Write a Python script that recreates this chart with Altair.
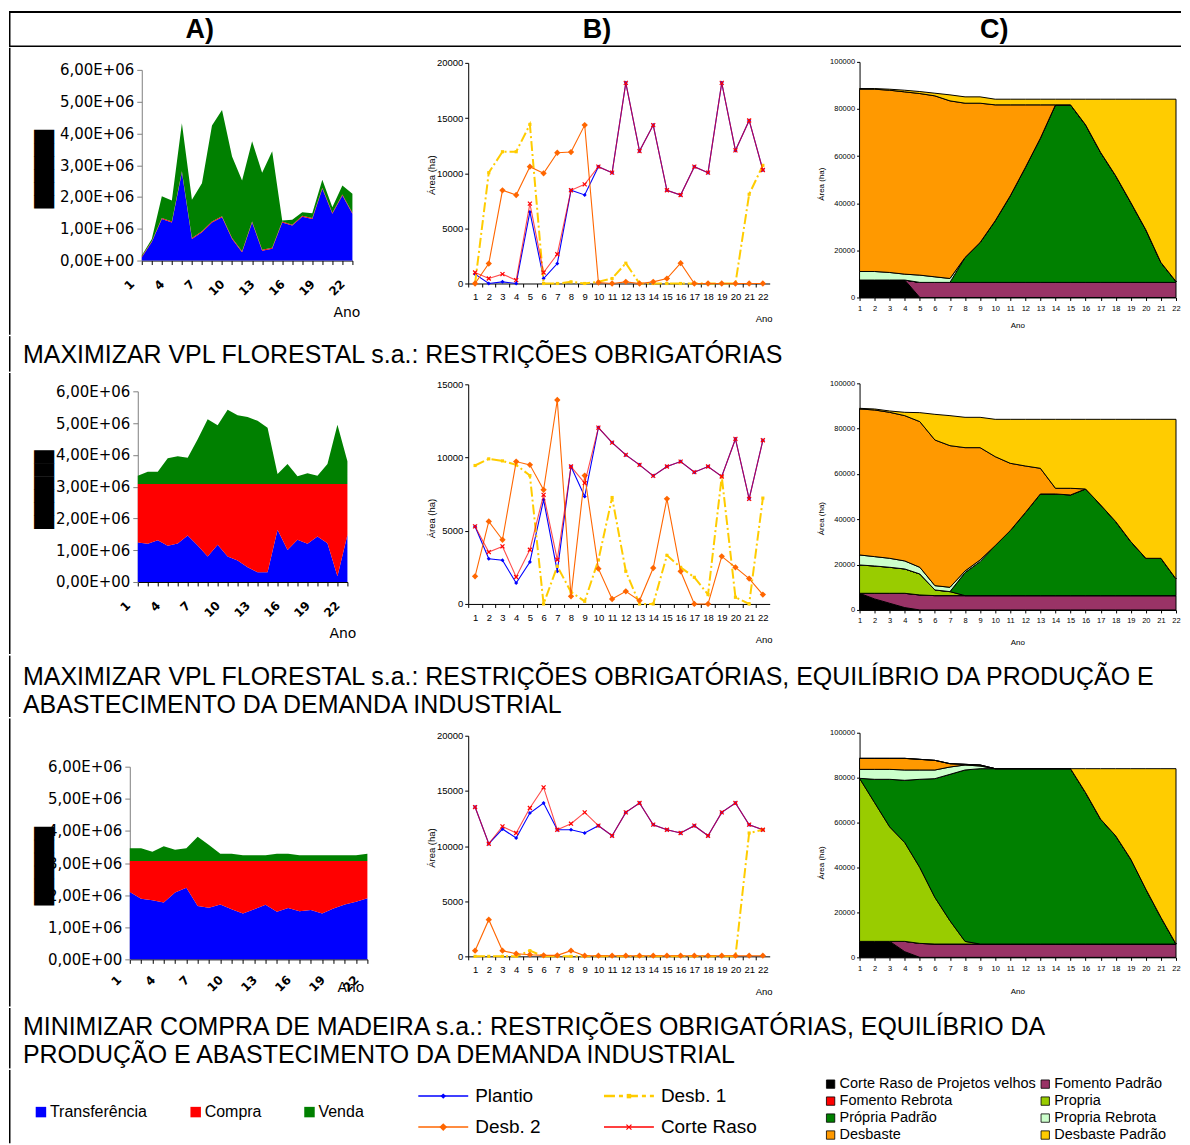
import altair as alt
import pandas as pd

FONT = "Liberation Sans"
AXFONT = "DejaVu Sans"
anos = list(range(1, 23))

# ---------------- A) valores (E+06) ----------------
serie_a = ["Transferência", "Compra", "Venda"]
cores_a = ["#0000ff", "#ff0000", "#008000"]

a1_transf = [0.10, 0.58, 1.31, 1.20, 2.78, 0.68, 0.89, 1.20, 1.36, 0.68, 0.26, 1.20, 0.31, 0.37, 1.20, 1.10, 1.38, 1.31, 2.26, 1.47, 2.05, 1.47]
a1_compra = [0.03, 0.03, 0.03, 0.03, 0.03, 0.03, 0.03, 0.03, 0.03, 0.03, 0.03, 0.03, 0.03, 0.03, 0.03, 0.03, 0.03, 0.03, 0.03, 0.03, 0.03, 0.03]
a1_venda = [0.03, 0.07, 0.68, 0.66, 1.51, 1.20, 1.51, 3.02, 3.35, 2.56, 2.23, 2.52, 2.42, 3.04, 0.03, 0.15, 0.11, 0.15, 0.25, 0.18, 0.28, 0.60]

a2_transf = [1.24, 1.20, 1.31, 1.14, 1.21, 1.46, 1.15, 0.80, 1.17, 0.80, 0.68, 0.46, 0.31, 0.31, 1.64, 1.01, 1.33, 1.20, 1.43, 1.22, 0.18, 1.48]
a2_compra = [1.84, 1.88, 1.77, 1.94, 1.87, 1.62, 1.93, 2.28, 1.91, 2.28, 2.40, 2.62, 2.77, 2.77, 1.44, 2.07, 1.75, 1.88, 1.65, 1.86, 2.90, 1.60]
a2_venda = [0.26, 0.39, 0.39, 0.81, 0.88, 0.83, 1.41, 2.04, 1.85, 2.34, 2.17, 2.11, 1.99, 1.77, 0.32, 0.63, 0.25, 0.34, 0.26, 0.63, 1.87, 0.72]

a3_transf = [2.10, 1.89, 1.84, 1.77, 2.08, 2.23, 1.66, 1.61, 1.71, 1.56, 1.43, 1.56, 1.70, 1.48, 1.60, 1.50, 1.54, 1.43, 1.58, 1.71, 1.79, 1.90]
a3_compra = [0.96, 1.17, 1.22, 1.29, 0.98, 0.83, 1.40, 1.45, 1.35, 1.50, 1.63, 1.50, 1.36, 1.58, 1.46, 1.56, 1.52, 1.63, 1.48, 1.35, 1.27, 1.16]
a3_venda = [0.40, 0.40, 0.29, 0.46, 0.35, 0.40, 0.76, 0.50, 0.23, 0.23, 0.18, 0.18, 0.18, 0.23, 0.23, 0.18, 0.18, 0.18, 0.18, 0.18, 0.18, 0.23]

# ---------------- B) área (ha) ----------------
serie_b = ["Plantio", "Desb. 1", "Desb. 2", "Corte Raso"]

b1_plantio = [850, 0, 150, 0, 6490, 450, 1810, 8450, 8030, 10590, 10045, 18190, 12005, 14360, 8450, 8025, 10590, 10045, 18190, 12065, 14780, 10290]
b1_desb1 = [0, 10045, 11945, 11945, 14420, 0, 0, 150, 0, 150, 450, 1840, 0, 0, 0, 0, 0, 0, 0, 0, 8085, 10710]
b1_desb2 = [0, 1810, 8450, 8025, 10590, 9985, 11855, 11915, 14360, 90, 0, 150, 0, 150, 450, 1840, 0, 0, 0, 0, 0, 0]
b1_corte = [1000, 450, 850, 300, 7240, 1000, 2650, 8450, 8990, 10590, 10045, 18190, 12005, 14360, 8450, 8025, 10590, 10045, 18190, 12065, 14780, 10290]

b2_plantio = [5295, 3090, 2980, 1430, 2865, 7115, 2230, 9385, 7340, 12045, 11020, 10180, 9500, 8750, 9385, 9725, 9000, 9385, 8705, 11270, 7180, 11180]
b2_desb1 = [9455, 9910, 9770, 9500, 8770, 0, 2570, 820, 180, 3000, 7270, 2230, 0, 0, 3320, 2500, 1820, 640, 8705, 455, 0, 7230]
b2_desb2 = [1885, 5635, 4385, 9725, 9500, 7795, 13930, 520, 8770, 2410, 340, 865, 230, 2455, 7180, 2230, 0, 0, 3250, 2500, 1730, 640]
b2_corte = [5295, 3545, 3930, 1840, 3705, 7455, 3020, 9385, 8250, 12045, 11020, 10180, 9500, 8750, 9385, 9725, 9000, 9385, 8705, 11270, 7180, 11180]

b3_plantio = [13535, 10210, 11540, 10725, 12990, 13900, 11480, 11480, 11180, 11845, 10935, 13050, 13900, 11935, 11480, 11180, 11845, 10935, 13050, 13900, 11935, 11480]
b3_desb1 = [0, 0, 0, 0, 515, 0, 0, 0, 0, 0, 0, 0, 0, 0, 0, 0, 0, 0, 0, 0, 11180, 11480]
b3_desb2 = [515, 3325, 515, 240, 150, 90, 90, 515, 60, 60, 60, 60, 60, 60, 60, 60, 60, 60, 60, 60, 60, 60]
b3_corte = [13535, 10210, 11780, 11180, 13445, 15315, 11480, 12025, 13050, 11845, 10935, 13050, 13900, 11935, 11480, 11180, 11845, 10935, 13050, 13900, 11935, 11480]

# ---------------- C) área (ha) por classe ----------------
serie_c = ["Corte Raso de Projetos velhos", "Fomento Padrão", "Fomento Rebrota", "Propria",
           "Própria Padrão", "Propria Rebrota", "Desbaste", "Desbaste Padrão"]
cores_c = ["#000000", "#993366", "#ff0000", "#99cc00", "#008000", "#ccffcc", "#ff9900", "#ffcc00"]

c1 = [
    [7400, 7400, 7400, 7400, 0, 0, 0, 0, 0, 0, 0, 0, 0, 0, 0, 0, 0, 0, 0, 0, 0, 0],
    [0, 0, 0, 0, 6400, 6400, 6400, 6400, 6400, 6400, 6400, 6400, 6400, 6400, 6400, 6400, 6400, 6400, 6400, 6400, 6400, 6400],
    [0, 0, 0, 0, 0, 0, 0, 0, 0, 0, 0, 0, 0, 0, 0, 0, 0, 0, 0, 0, 0, 0],
    [0, 0, 0, 0, 0, 0, 0, 0, 0, 0, 0, 0, 0, 0, 0, 0, 0, 0, 0, 0, 0, 0],
    [0, 0, 0, 0, 0, 0, 0, 10570, 16940, 26130, 36740, 48760, 61210, 75350, 75350, 66870, 55130, 45230, 33910, 22310, 8450, 390],
    [3630, 3630, 3210, 2500, 3080, 2370, 1660, 0, 0, 0, 0, 0, 0, 0, 0, 0, 0, 0, 0, 0, 0, 0],
    [77370, 77370, 77360, 77370, 77080, 76800, 75390, 65490, 59120, 49220, 38610, 26590, 14140, 0, 0, 0, 0, 0, 0, 0, 0, 0],
    [280, 280, 430, 700, 850, 1130, 2550, 2690, 2690, 2410, 2410, 2410, 2410, 2410, 2410, 10890, 22630, 32530, 43850, 55450, 69310, 77370],
]
c2 = [
    [7350, 4850, 2940, 1030, 0, 0, 0, 0, 0, 0, 0, 0, 0, 0, 0, 0, 0, 0, 0, 0, 0, 0],
    [0, 2500, 4410, 6320, 6620, 6320, 6320, 6320, 6320, 6320, 6320, 6320, 6320, 6320, 6320, 6320, 6320, 6320, 6320, 6320, 6320, 6320],
    [0, 0, 0, 0, 0, 0, 0, 0, 0, 0, 0, 0, 0, 0, 0, 0, 0, 0, 0, 0, 0, 0],
    [12500, 12060, 11470, 10740, 9260, 2500, 1770, 0, 0, 0, 0, 0, 0, 0, 0, 0, 0, 0, 0, 0, 0, 0],
    [0, 0, 0, 0, 0, 0, 0, 10150, 15000, 22060, 28680, 36620, 44860, 44860, 44420, 47060, 40000, 32650, 23830, 16470, 16470, 7360],
    [4410, 4120, 3970, 3530, 2940, 1910, 1910, 740, 740, 0, 0, 0, 0, 0, 0, 0, 0, 0, 0, 0, 0, 0],
    [64420, 64710, 64420, 64120, 64270, 64270, 62500, 54410, 49560, 39270, 29710, 20590, 11320, 2500, 2940, 0, 0, 0, 0, 0, 0, 0],
    [290, 440, 580, 1470, 3970, 11320, 13240, 13380, 13380, 16470, 19410, 20590, 21620, 30440, 30440, 30740, 37800, 45150, 53970, 61330, 61330, 70440],
]
c3 = [
    [7110, 7110, 7110, 2520, 0, 0, 0, 0, 0, 0, 0, 0, 0, 0, 0, 0, 0, 0, 0, 0, 0, 0],
    [0, 0, 0, 4590, 6220, 5930, 5930, 5930, 5930, 5930, 5930, 5930, 5930, 5930, 5930, 5930, 5930, 5930, 5930, 5930, 5930, 5930],
    [0, 0, 0, 0, 0, 0, 0, 0, 0, 0, 0, 0, 0, 0, 0, 0, 0, 0, 0, 0, 0, 0],
    [72590, 61780, 50960, 44000, 33780, 20740, 10370, 1180, 0, 0, 0, 0, 0, 0, 0, 0, 0, 0, 0, 0, 0, 0],
    [0, 10370, 21190, 27710, 39260, 52890, 65180, 76300, 78070, 78070, 78070, 78070, 78070, 78070, 78070, 67400, 55550, 48140, 37770, 24440, 11850, 0],
    [4000, 4440, 4440, 4590, 4150, 3850, 3260, 2220, 1190, 0, 0, 0, 0, 0, 0, 0, 0, 0, 0, 0, 0, 0],
    [4890, 4890, 4890, 5180, 4740, 4290, 1480, 300, 440, 0, 0, 0, 0, 0, 0, 0, 0, 0, 0, 0, 0, 0],
    [0, 0, 0, 0, 0, 0, 0, 0, 0, 0, 0, 0, 0, 0, 0, 10670, 22520, 29930, 40300, 53630, 66220, 78070],
]

# ---------------- textos ----------------
cabecalho = ["A)", "B)", "C)"]
titulo1 = ["MAXIMIZAR VPL FLORESTAL s.a.: RESTRIÇÕES OBRIGATÓRIAS"]
titulo2 = ["MAXIMIZAR VPL FLORESTAL s.a.: RESTRIÇÕES OBRIGATÓRIAS, EQUILÍBRIO DA PRODUÇÃO E",
           "ABASTECIMENTO DA DEMANDA INDUSTRIAL"]
titulo3 = ["MINIMIZAR COMPRA DE MADEIRA s.a.: RESTRIÇÕES OBRIGATÓRIAS, EQUILÍBRIO DA",
           "PRODUÇÃO E ABASTECIMENTO DA DEMANDA INDUSTRIAL"]

FULLW = 1174
BLOCO = "\u2588" * 6
XPATH = "M-1,-1L1,1M-1,1L1,-1"
ONE = pd.DataFrame({"k": [0]})


def borda(y0, y1):
    return alt.Chart(ONE).mark_rule(color="black", strokeWidth=1.5).encode(
        x=alt.value(0.75), y=alt.value(y0 + 0.75), y2=alt.value(y1 - 0.75))


def espacador(width, band):
    return borda(band[0], band[1]).properties(width=width, height=10)


def painel_a(transf, compra, venda, left, width, xr, h, ytop, box_y, ano_x, ano_y, lab_off, lab_pad):
    rows = []
    for k, (nome, vals) in enumerate(zip(serie_a, [transf, compra, venda])):
        for a, v in zip(anos, vals):
            rows.append({"ano": a, "valor": v * 1e6, "serie": nome, "ord": k})
    df = pd.DataFrame(rows)
    xaxis = alt.Axis(values=anos, labelExpr="(datum.value - 1) % 3 == 0 ? datum.label : ''",
                     labelAngle=315, labelAlign="right", labelBaseline="middle",
                     labelFont=AXFONT, labelFontSize=12, labelFontWeight="bold",
                     labelPadding=lab_pad, labelOffset=lab_off,
                     labelFlush=False, labelOverlap=False, tickSize=4, tickColor="black",
                     domainColor="black", title="Ano", titleX=ano_x, titleY=ano_y,
                     titleFont=AXFONT, titleFontSize=14, titleFontWeight="normal",
                     titleAlign="center", titleBaseline="middle", grid=False)
    yaxis = alt.Axis(values=[0, 1e6, 2e6, 3e6, 4e6, 5e6, 6e6],
                     labelExpr="datum.value == 0 ? '0,00E+00' : replace(format(datum.value / 1e6, '.2f'), '.', ',') + 'E+06'",
                     labelFont=AXFONT, labelFontSize=15, labelColor="black", labelPadding=3,
                     tickColor="#808080", domainColor="#808080", tickSize=5, grid=False,
                     title=BLOCO, titleFont=AXFONT, titleFontSize=17, titleColor="black",
                     titleFontWeight="normal", titleAngle=270, titleX=44 - left, titleY=box_y,
                     titleAlign="center", titleBaseline="middle")
    area = alt.Chart(df).mark_area(opacity=1).encode(
        x=alt.X("ano:Q", scale=alt.Scale(domain=[1, 22], range=[0, xr], nice=False, zero=False), axis=xaxis),
        y=alt.Y("valor:Q", stack="zero", scale=alt.Scale(domain=[0, 6e6], range=[h, ytop], nice=False), axis=yaxis),
        color=alt.Color("serie:N", scale=alt.Scale(domain=serie_a, range=cores_a), legend=None),
        order=alt.Order("ord:Q", sort="ascending"),
    )
    return area.properties(width=width, height=h)


def painel_b(plantio, desb1, desb2, corte, ymax, h, ytop, title_y, ano_y):
    rows = []
    for nome, vals in zip(serie_b, [plantio, desb1, desb2, corte]):
        for a, v in zip(anos, vals):
            rows.append({"ano": a, "area": v, "serie": nome})
    df = pd.DataFrame(rows)
    xr = 302
    step = xr / 22.0
    x = alt.X("ano:Q", scale=alt.Scale(domain=[0.5, 22.5], range=[0, xr], nice=False, zero=False),
              axis=alt.Axis(values=anos, tickOffset=-step / 2, labelOffset=step / 2, labelFlush=False,
                            labelOverlap=False, labelFont=FONT, labelFontSize=9.5, labelPadding=5,
                            tickSize=3.5, tickColor="black", domainColor="black", grid=False,
                            title="Ano", titleX=296, titleY=ano_y, titleFont=FONT, titleFontSize=9.5,
                            titleFontWeight="normal", titleAlign="center", titleBaseline="middle"))
    y = alt.Y("area:Q", scale=alt.Scale(domain=[0, ymax], range=[h, ytop], nice=False),
              axis=alt.Axis(values=list(range(0, ymax + 1, 5000)), format="d", labelFont=FONT,
                            labelFontSize=9.5, labelPadding=2, tickSize=3.5, tickColor="black",
                            domainColor="black", grid=False, title="Área (ha)", titleX=-37,
                            titleY=title_y, titleAngle=270, titleFont=FONT, titleFontSize=9.5,
                            titleFontWeight="normal", titleAlign="center", titleBaseline="middle"))
    estilos = {
        "Plantio": dict(line=dict(color="#0000ff", strokeWidth=1.1),
                        pt=dict(shape="diamond", filled=True, size=16, color="#0000ff", opacity=1)),
        "Desb. 1": dict(line=dict(color="#ffcc00", strokeWidth=2, strokeDash=[10, 3, 2, 3]),
                        pt=dict(shape="square", filled=True, size=10, color="#ffcc00", opacity=1)),
        "Desb. 2": dict(line=dict(color="#ff6600", strokeWidth=1.1),
                        pt=dict(shape="diamond", filled=True, size=40, color="#ff6600", opacity=1)),
        "Corte Raso": dict(line=dict(color="#ff0000", strokeWidth=1.1, opacity=0.7),
                           pt=dict(shape=XPATH, filled=False, size=16, color="#ff0000", strokeWidth=1.2, opacity=1)),
    }
    layers = []
    for nome in serie_b:
        base = alt.Chart(df).transform_filter(alt.datum.serie == nome)
        layers.append(base.mark_line(**estilos[nome]["line"]).encode(x=x, y=y))
        layers.append(base.mark_point(**estilos[nome]["pt"]).encode(x=x, y=y))
    return alt.layer(*layers).properties(width=392, height=h)


def painel_c(series, h, title_y, ano_y):
    rows = []
    for k, (nome, vals) in enumerate(zip(serie_c, series)):
        for a, v in zip(anos, vals):
            rows.append({"ano": a, "area": v, "classe": nome, "ord": k})
    df = pd.DataFrame(rows)
    area = alt.Chart(df).mark_area(opacity=1, stroke="black", strokeWidth=1).encode(
        x=alt.X("ano:Q", scale=alt.Scale(domain=[1, 22], range=[0, 317], nice=False, zero=False),
                axis=alt.Axis(values=anos, labelFlush=False, labelOverlap=False, labelFont=FONT,
                              labelFontSize=7.5, labelPadding=4, tickSize=3, tickColor="black",
                              domainColor="black", grid=False, title="Ano", titleX=158, titleY=ano_y,
                              titleFont=FONT, titleFontSize=8, titleFontWeight="normal",
                              titleAlign="center", titleBaseline="middle")),
        y=alt.Y("area:Q", stack="zero", scale=alt.Scale(domain=[0, 100000], nice=False),
                axis=alt.Axis(values=[0, 20000, 40000, 60000, 80000, 100000], format="d",
                              labelFont=FONT, labelFontSize=7.5, labelPadding=2, tickSize=3,
                              tickColor="black", domainColor="black", grid=False,
                              title="Área (ha)", titleX=-38, titleY=title_y, titleAngle=270,
                              titleFont=FONT, titleFontSize=8, titleFontWeight="normal",
                              titleAlign="center", titleBaseline="middle")),
        color=alt.Color("classe:N", scale=alt.Scale(domain=serie_c, range=cores_c), legend=None),
        order=alt.Order("ord:Q", sort="ascending"),
    )
    return area.properties(width=317, height=h)


def bloco_texto(linhas, height, y_first, gap=28, size=25):
    df = pd.DataFrame({"t": linhas, "i": list(range(len(linhas)))})
    txt = alt.Chart(df).mark_text(align="left", baseline="middle", font=FONT, fontSize=size,
                                  color="black").encode(
        x=alt.value(14),
        y=alt.Y("i:Q", scale=alt.Scale(domain=[0, 1], range=[y_first, y_first + gap]), axis=None),
        text="t:N")
    return alt.layer(borda(0, height), txt).properties(width=FULLW, height=height)


def bloco_cabecalho():
    h = 36
    df = pd.DataFrame({"t": cabecalho, "i": [0, 1, 2]})
    top = alt.Chart(ONE).mark_rule(color="black", strokeWidth=2).encode(
        x=alt.value(0), x2=alt.value(FULLW), y=alt.value(1))
    bot = alt.Chart(ONE).mark_rule(color="black", strokeWidth=1.5).encode(
        x=alt.value(0), x2=alt.value(FULLW), y=alt.value(h - 0.75))
    txt = alt.Chart(df).mark_text(font=FONT, fontSize=27, fontWeight="bold", color="black",
                                  baseline="middle", align="center").encode(
        x=alt.X("i:Q", scale=alt.Scale(domain=[0, 2], range=[191, 987]), axis=None),
        y=alt.value(19), text="t:N")
    return alt.layer(borda(0, h), top, bot, txt).properties(width=FULLW, height=h)


def bloco_legenda():
    h = 75
    # A
    dfa = pd.DataFrame({"nome": serie_a, "i": [0, 1, 2]})
    xa = alt.X("i:Q", scale=alt.Scale(domain=[0, 1, 2], range=[32, 187, 301], zero=False, nice=False), axis=None)
    sq_a = alt.Chart(dfa).mark_square(size=110, opacity=1).encode(
        x=xa, y=alt.value(43),
        color=alt.Color("nome:N", scale=alt.Scale(domain=serie_a, range=cores_a), legend=None))
    tx_a = alt.Chart(dfa).mark_text(align="left", baseline="middle", dx=9, font=FONT, fontSize=16,
                                    color="black").encode(x=xa, y=alt.value(43), text="nome:N")
    # B
    dfb = pd.DataFrame({"nome": serie_b, "col": [0, 1, 0, 1], "row": [0, 0, 1, 1]})
    xb = alt.X("col:Q", scale=alt.Scale(domain=[0, 1], range=[435, 621], zero=False, nice=False), axis=None)
    yb = alt.Y("row:Q", scale=alt.Scale(domain=[0, 1], range=[27, 58], zero=False, nice=False), axis=None)
    est_b = {
        "Plantio": (dict(color="#0000ff", strokeWidth=1.5), dict(shape="diamond", filled=True, size=30, color="#0000ff")),
        "Desb. 1": (dict(color="#ffcc00", strokeWidth=2.5, strokeDash=[11, 4, 4, 4]), dict(shape="square", filled=True, size=20, color="#ffcc00")),
        "Desb. 2": (dict(color="#ff6600", strokeWidth=1.5), dict(shape="diamond", filled=True, size=60, color="#ff6600")),
        "Corte Raso": (dict(color="#ff0000", strokeWidth=1.5), dict(shape=XPATH, filled=False, size=25, color="#ff0000", strokeWidth=1.2)),
    }
    lay_b = []
    for nome in serie_b:
        base = alt.Chart(dfb).transform_filter(alt.datum.nome == nome)
        ls, ps = est_b[nome]
        lay_b.append(base.mark_point(shape="M-1,0L1,0", filled=False, size=2500, opacity=1, **ls).encode(x=xb, y=yb))
        lay_b.append(base.mark_point(opacity=1, **ps).encode(x=xb, y=yb))
    tx_b = alt.Chart(dfb).mark_text(align="left", baseline="middle", dx=32, font=FONT, fontSize=19,
                                    color="black").encode(x=xb, y=yb, text="nome:N")
    # C
    dfc = pd.DataFrame({"nome": serie_c, "col": [i % 2 for i in range(8)], "row": [i // 2 for i in range(8)]})
    xc = alt.X("col:Q", scale=alt.Scale(domain=[0, 1], range=[823, 1038], zero=False, nice=False), axis=None)
    yc = alt.Y("row:Q", scale=alt.Scale(domain=[0, 3], range=[15, 66], zero=False, nice=False), axis=None)
    sq_c = alt.Chart(dfc).mark_square(size=70, opacity=1, stroke="black", strokeWidth=0.8).encode(
        x=xc, y=yc,
        color=alt.Color("nome:N", scale=alt.Scale(domain=serie_c, range=cores_c), legend=None))
    tx_c = alt.Chart(dfc).mark_text(align="left", baseline="middle", dx=9, font=FONT, fontSize=14.5,
                                    color="black").encode(x=xc, y=yc, text="nome:N")
    layers = [borda(0, h), sq_a, tx_a] + lay_b + [tx_b, sq_c, tx_c]
    return alt.layer(*layers).resolve_scale(x="independent", y="independent", color="independent").properties(
        width=FULLW, height=h)


def linha(spacer_w, band, pa, pb, pc):
    return alt.hconcat(espacador(spacer_w, band), pa, pb, pc, spacing=0, bounds="flush").resolve_scale(
        color="independent")


row1 = linha(133, (-15, 274),
             painel_a(a1_transf, a1_compra, a1_venda, left=141, width=327, xr=211, h=199, ytop=8, box_y=107,
                      ano_x=205, ano_y=52, lab_off=-10, lab_pad=17),
             painel_b(b1_plantio, b1_desb1, b1_desb2, b1_corte, ymax=20000, h=222, ytop=1, title_y=113, ano_y=35),
             painel_c(c1, h=236, title_y=122, ano_y=28))

row2 = linha(129, (-11, 272),
             painel_a(a2_transf, a2_compra, a2_venda, left=137, width=331, xr=210, h=199, ytop=8, box_y=106,
                      ano_x=205, ano_y=52, lab_off=-10, lab_pad=17),
             painel_b(b2_plantio, b2_desb1, b2_desb2, b2_corte, ymax=15000, h=221, ytop=1, title_y=135, ano_y=36),
             painel_c(c2, h=227, title_y=135, ano_y=33))

row3 = linha(121, (-15, 275),
             painel_a(a3_transf, a3_compra, a3_venda, left=129, width=339, xr=238, h=227, ytop=34, box_y=133,
                      ano_x=221, ano_y=28, lab_off=-11, lab_pad=14),
             painel_b(b3_plantio, b3_desb1, b3_desb2, b3_corte, ymax=20000, h=224, ytop=3, title_y=115, ano_y=35),
             painel_c(c3, h=225, title_y=130, ano_y=34))

chart = alt.vconcat(
    bloco_cabecalho(),
    row1,
    bloco_texto(titulo1, 37, 20),
    row2,
    bloco_texto(titulo2, 63, 22),
    row3,
    bloco_texto(titulo3, 62, 20),
    bloco_legenda(),
    spacing=0,
).resolve_scale(color="independent").properties(
    padding={"left": 0, "top": 2, "right": 0, "bottom": 0}
).configure(
    font=FONT, view=alt.ViewConfig(stroke="transparent", strokeWidth=0)
)

chart.save("out.html", embed_options={"renderer": "svg", "actions": False})
